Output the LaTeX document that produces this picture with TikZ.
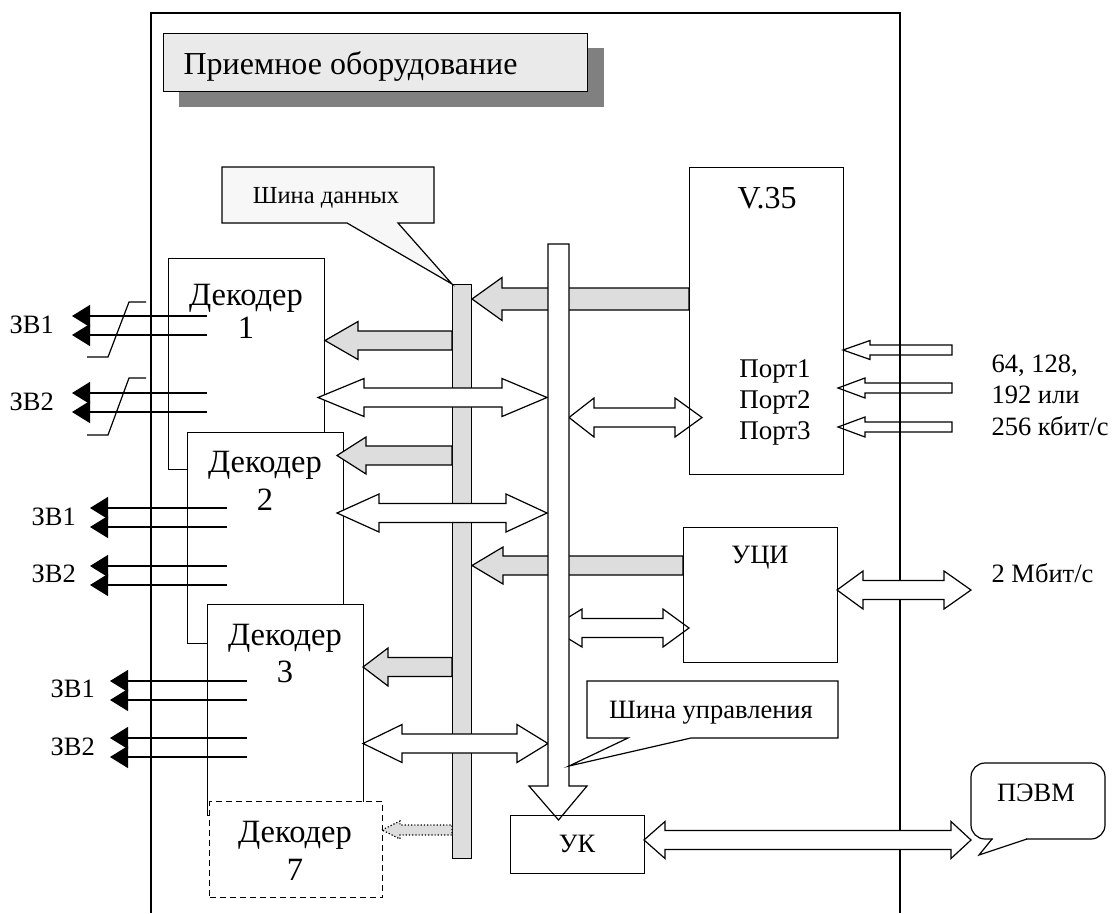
\documentclass[tikz,border=0pt]{standalone}
\usepackage{fontspec}
\setmainfont{Liberation Serif}
\usetikzlibrary{arrows.meta}
\definecolor{busgray}{HTML}{DDDDDD}
\definecolor{titlefill}{HTML}{EAEAEA}
\definecolor{shadowgray}{HTML}{808080}
\definecolor{calloutfill}{HTML}{F7F7F7}
% left-pointing block arrow: style, tip x, y, tail x, shaft half, head half, head length
\newcommand\blkL[7]{%
  \path[#1] (#2,#3) -- ({#2+#7},{#3-#6}) -- ({#2+#7},{#3-#5}) -- (#4,{#3-#5})
    -- (#4,{#3+#5}) -- ({#2+#7},{#3+#5}) -- ({#2+#7},{#3+#6}) -- cycle;}
% double block arrow: style, left tip, y, right tip, shaft half, head half, left head len, right head len
\newcommand\blkLR[8]{%
  \path[#1] (#2,#3) -- ({#2+#7},{#3-#6}) -- ({#2+#7},{#3-#5}) -- ({#4-#8},{#3-#5})
    -- ({#4-#8},{#3-#6}) -- (#4,#3) -- ({#4-#8},{#3+#6}) -- ({#4-#8},{#3+#5})
    -- ({#2+#7},{#3+#5}) -- ({#2+#7},{#3+#6}) -- cycle;}
\begin{document}
\begin{tikzpicture}[x=1pt,y=-1pt,line width=1.2pt,
  big/.style={font=\fontsize{32}{36}\selectfont, inner sep=0pt, anchor=base},
  dec/.style={font=\fontsize{32.5}{38}\selectfont, inner sep=0pt, anchor=base},
  port/.style={font=\fontsize{27}{31}\selectfont, inner sep=0pt, anchor=base},
  small/.style={font=\fontsize{26.5}{30}\selectfont, inner sep=0pt, anchor=base},
  smallw/.style={small, anchor=base west},
  box/.style={draw, inner sep=0pt, anchor=north west},
  gar/.style={draw, fill=busgray},
  gdot/.style={draw, dotted, fill=busgray},
  war/.style={draw, fill=white},
  par/.style={draw},
  zv/.style={-{Triangle[length=18pt,width=22pt]}}]
\useasboundingbox (0,0) rectangle (1113,913);

% outer frame
\draw (151,913) -- (151,13) -- (900,13) -- (900,913);

% title with shadow
\fill[shadowgray] (179,48) rectangle (604,107);
\node[box, fill=titlefill, minimum width=424pt, minimum height=58pt] (titlebox) at (163,33) {};
\node[big, anchor=base west] (title) at (183,74) {Приемное оборудование};

% port input arrows (outline only)
\blkL{par}{843}{350}{952}{5}{9.5}{27}
\blkL{par}{838}{388}{952}{5}{10}{27}
\blkL{par}{838}{427}{952}{5}{10}{27}

% decoders
\node[box, fill=white, minimum width=156pt, minimum height=211pt] (dec1) at (168,258) {};
\node[box, fill=white, minimum width=156pt, minimum height=211pt] (dec2) at (187,432) {};
\node[box, fill=white, minimum width=156pt, minimum height=211pt] (dec3) at (207,604) {};
\node[box, dashed, dash pattern=on 6pt off 4pt, fill=white, minimum width=173pt, minimum height=96pt] (dec7) at (209,801) {};

\node[dec] (d1a) at (246,305) {Декодер};
\node[dec] (d1b) at (246,338) {1};
\node[dec] (d2a) at (265,472) {Декодер};
\node[dec] (d2b) at (265,510) {2};
\node[dec] (d3a) at (285,645) {Декодер};
\node[dec] (d3b) at (285,682) {3};
\node[dec] (d7a) at (295,842) {Декодер};
\node[dec] (d7b) at (295,880) {7};

% audio outputs
\foreach \y in {316,335,393,412} \draw[zv] (207,\y) -- (72,\y);
\foreach \y in {508,527,566,585} \draw[zv] (227,\y) -- (90,\y);
\foreach \y in {681,700,738,757} \draw[zv] (247,\y) -- (110,\y);
\draw (87,357) -- (108,357) -- (129,302) -- (146,302);
\draw (87,435) -- (108,435) -- (129,378) -- (146,378);
\node[smallw] (z11) at (9,333) {ЗВ1};
\node[smallw] (z12) at (9,410) {ЗВ2};
\node[smallw] (z21) at (31,525) {ЗВ1};
\node[smallw] (z22) at (31,582) {ЗВ2};
\node[smallw] (z31) at (50,697) {ЗВ1};
\node[smallw] (z32) at (50,755) {ЗВ2};

% gray arrows into data bus (behind control bus)
\blkL{gar}{472}{299}{689}{11}{21.5}{30}
\blkL{gar}{472}{565.5}{683}{9.5}{18.5}{31}

% data bus
\node[box, fill=busgray, minimum width=19pt, minimum height=574pt] (dbus) at (452,284) {};

% gray arrows from data bus to decoders
\blkL{gar}{325}{340.5}{452}{9.5}{19}{33}
\blkL{gar}{337}{455.5}{452}{9.5}{18.5}{29}
\blkL{gar}{363}{667}{452}{9.5}{19}{25}
\blkL{gdot}{382}{830}{452}{5}{9}{18}

% white double arrows
\blkLR{war}{318}{397.5}{547}{9.5}{19}{46}{45}
\blkLR{war}{337}{513}{547}{9.5}{19}{42}{41}
\blkLR{war}{363}{743.5}{548}{9.5}{19}{39}{31}
\blkLR{war}{569}{417.5}{702}{9.5}{19.5}{25}{27}
\blkLR{war}{551}{628}{689}{9.5}{19}{31}{26}
\blkLR{war}{837}{590}{971}{9.5}{19}{26}{27}
\blkLR{war}{644}{840}{971}{9.5}{18.5}{21}{20}

% control bus (down arrow to UK)
\path[war] (548,244) -- (569,244) -- (569,786) -- (587,786) -- (558.5,820)
  -- (529,786) -- (548,786) -- cycle;

% functional boxes
\node[box, minimum width=154pt, minimum height=307pt] (v35) at (689,167) {};
\node[box, minimum width=154pt, minimum height=135pt] (uci) at (683,527) {};
\node[box, minimum width=134pt, minimum height=58pt] (uk) at (510,815) {};
\node[big] (v35t) at (767,208) {V.35};
\node[port] (p1) at (775,377) {Порт1};
\node[port] (p2) at (775,408) {Порт2};
\node[port] (p3) at (775,439) {Порт3};
\node[small] (ucit) at (760,563) {УЦИ};
\node[small] (ukt) at (577,852) {УК};

% right-side labels
\node[smallw] (r1) at (991,372) {64, 128,};
\node[smallw] (r2) at (991,403) {192 или};
\node[smallw] (r3) at (991,435) {256 кбит/с};
\node[smallw] (r4) at (991,582) {2 Мбит/с};

% callouts
\draw[fill=calloutfill] (222,167) -- (434,167) -- (434,223) -- (398,223) -- (452,284)
  -- (347,223) -- (222,223) -- cycle;
\node[font=\fontsize{24.5}{28}\selectfont, inner sep=0pt, anchor=base] (cb1) at (326,203) {Шина данных};
\draw[fill=white] (587,681) -- (838,681) -- (838,738) -- (691,738) -- (569,766)
  -- (628,738) -- (587,738) -- cycle;
\node[small] (cb2) at (711,718) {Шина управления};
\draw[fill=white, rounded corners=14pt] (971,763) rectangle (1105,839);
\fill[white] (992.6,837) rectangle (1026.4,841);
\draw (992,839) -- (979,855) -- (1027,839);
\node[small] (pc) at (1036,801) {ПЭВМ};
\end{tikzpicture}
\end{document}
